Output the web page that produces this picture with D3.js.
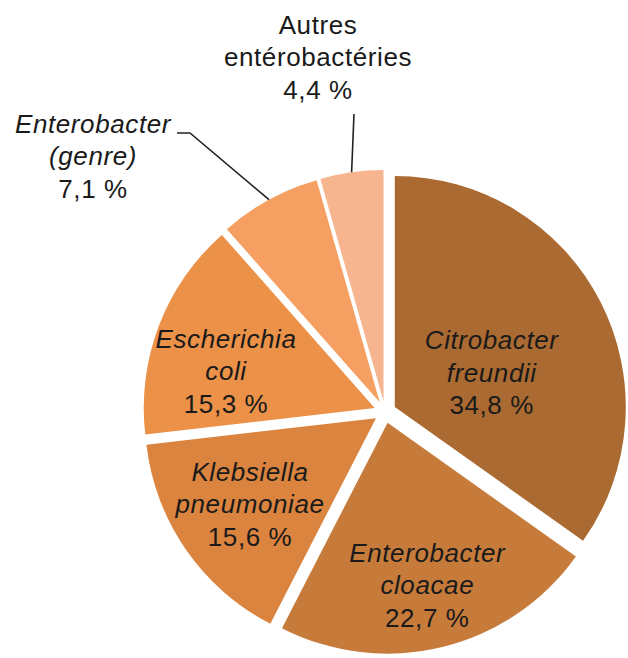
<!DOCTYPE html>
<html>
<head>
<meta charset="utf-8">
<script src="https://cdn.jsdelivr.net/npm/d3@7"></script>
<style>
  html, body { margin: 0; padding: 0; background: #fff; }
  svg { display: block; }
  text { font-family: "Liberation Sans", Arial, sans-serif; fill: #1a1a1a; }
</style>
</head>
<body>
<svg id="chart" width="628" height="658"></svg>
<script>
// data
const categories = ["Citrobacter freundii", "Enterobacter cloacae", "Klebsiella pneumoniae",
  "Escherichia coli", "Enterobacter (genre)", "Autres entérobactéries"];
const values = [34.8, 22.7, 15.6, 15.3, 7.1, 4.4];
const labelLines = [["Citrobacter", "freundii"], ["Enterobacter", "cloacae"], ["Klebsiella", "pneumoniae"],
  ["Escherichia", "coli"], ["Enterobacter", "(genre)"], ["Autres", "entérobactéries"]];
const italicName = [true, true, true, true, true, false];
const colors = ["#aa6a31", "#c77b3b", "#da843f", "#eb9148", "#f5a062", "#f7b58f"];

const W = 628, H = 658;
const cx = 385, cy = 412, R = 231;
const explode = 11;
const lineH = 32.5;

const svg = d3.select("#chart");
const g = svg.append("g").attr("transform", `translate(${cx},${cy})`);

const pie = d3.pie().sort(null).value(d => d);
const arcs = pie(values);
const arc = d3.arc().innerRadius(0).outerRadius(R);

const fmt = v => d3.format(".1f")(v).replace(".", ",") + " %";
const mid = d => (d.startAngle + d.endAngle) / 2;
const shift = (d, k) => [k * Math.sin(mid(d)), -k * Math.cos(mid(d))];

// slices, pushed out a little along their bisector
g.selectAll("path.slice")
  .data(arcs)
  .join("path")
  .attr("class", "slice")
  .attr("fill", (d, i) => colors[i])
  .attr("transform", d => `translate(${shift(d, explode)})`)
  .attr("d", arc);

// labels inside the big slices: bisector point then a hand nudge
const nudge = {0: [-37, 44], 1: [4, 25], 2: [-2, 9], 3: [-8, 26]};
// labels outside (middle line baseline) + leader line starts
const outside = {4: {x: 93, y: 165, lead: [[177, 133], [190, 133]]},
                 5: {x: 318, y: 66, lead: [[354, 114]]}};

arcs.forEach((d, i) => {
  let x, y;
  if (outside[i]) {
    x = outside[i].x - cx; y = outside[i].y - cy;
  } else {
    const p = shift(d, R * 0.7);
    x = p[0] + nudge[i][0]; y = p[1] + nudge[i][1];
  }
  const t = g.append("text")
    .attr("text-anchor", "middle")
    .attr("font-size", 26)
    .attr("letter-spacing", 0.6);
  const lines = [labelLines[i][0], labelLines[i][1], fmt(values[i])];
  lines.forEach((s, k) => {
    t.append("tspan")
      .attr("x", x)
      .attr("y", y + (k - 1) * lineH)
      .attr("font-style", k < 2 && italicName[i] ? "italic" : "normal")
      .text(s);
  });

  if (outside[i]) {
    const e = shift(d, explode);
    const p = shift(d, R);
    const pts = outside[i].lead.map(q => [q[0] - cx, q[1] - cy]);
    pts.push([e[0] + p[0], e[1] + p[1]]);
    g.append("path")
      .attr("d", d3.line()(pts))
      .attr("fill", "none")
      .attr("stroke", "#222")
      .attr("stroke-width", 1.6);
  }
});
</script>
</body>
</html>
